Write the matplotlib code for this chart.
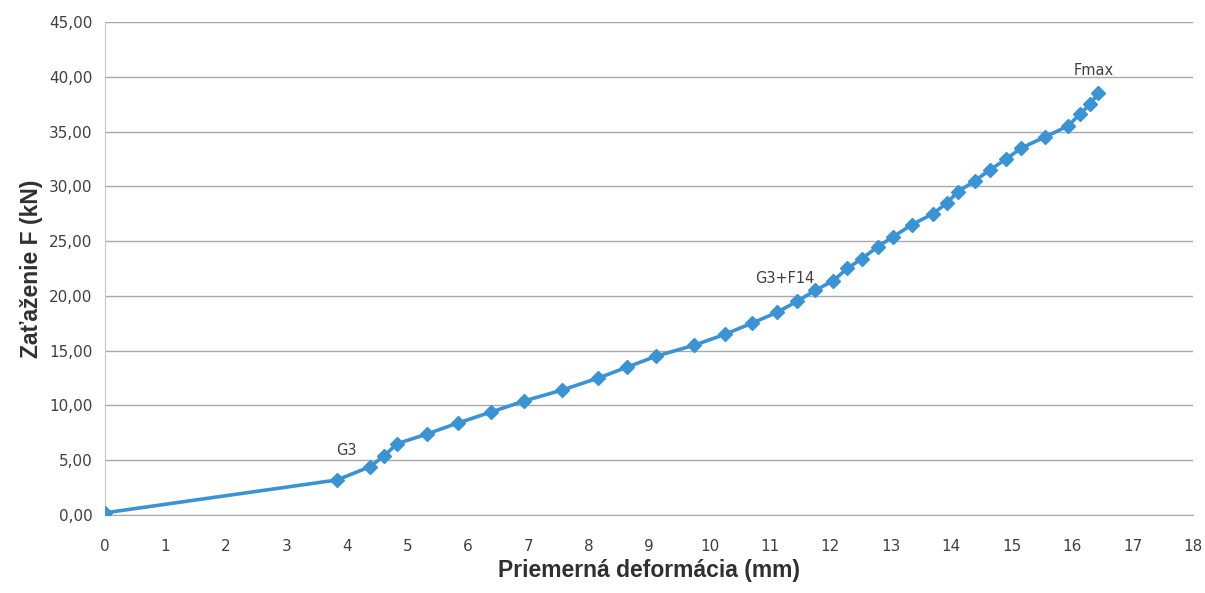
import numpy as np
import matplotlib
matplotlib.use('Agg')
import matplotlib.pyplot as plt
from matplotlib.ticker import MultipleLocator, FuncFormatter

# priemerna deformacia (mm) a zatazenie (kN)
deform = [0.0, 3.84, 4.38, 4.62, 4.83, 5.33, 5.84, 6.39, 6.93, 7.56, 8.16,
          8.64, 9.12, 9.75, 10.26, 10.70, 11.12, 11.45, 11.75, 12.05, 12.28,
          12.52, 12.79, 13.04, 13.35, 13.70, 13.93, 14.11, 14.39, 14.64,
          14.91, 15.16, 15.55, 15.93, 16.13, 16.30, 16.43]
load = [0.2, 3.2, 4.4, 5.4, 6.5, 7.4, 8.4, 9.4, 10.4, 11.4, 12.5,
        13.5, 14.5, 15.5, 16.5, 17.5, 18.5, 19.5, 20.5, 21.4, 22.5,
        23.4, 24.5, 25.4, 26.5, 27.5, 28.5, 29.5, 30.5, 31.5,
        32.5, 33.5, 34.5, 35.5, 36.6, 37.5, 38.5]

labels = ['G3', 'G3+F14', 'Fmax']
label_x = [4.0, 11.25, 16.35]
label_y = [5.9, 21.6, 40.6]

col = '#3b93d4'
grid_col = '#a8a8a8'
txt_col = '#404040'

fig = plt.figure(figsize=(12.05, 5.93), dpi=100)
ax = fig.add_axes([0.0871, 0.1315, 0.903, 0.8315])

ax.plot(deform, load, color=col, lw=2.6, marker='D', ms=7,
        markerfacecolor=col, markeredgecolor=col, zorder=3)

for t, x, y in zip(labels, label_x, label_y):
    ax.text(x, y, t, ha='center', va='center', fontsize=10.5, color=txt_col,
            family='DejaVu Sans')

ax.set_xlim(0, 18)
ax.set_ylim(0, 45)
ax.xaxis.set_major_locator(MultipleLocator(1))
ax.yaxis.set_major_locator(MultipleLocator(5))
ax.yaxis.set_major_formatter(FuncFormatter(lambda v, p: ('%.2f' % v).replace('.', ',')))
ax.yaxis.grid(True, color=grid_col, lw=1)
ax.set_axisbelow(True)

for s in ['top', 'right']:
    ax.spines[s].set_visible(False)
ax.spines['left'].set_color('#c8c8c8')
ax.spines['bottom'].set_color(grid_col)
ax.tick_params(axis='both', length=0, labelsize=11, colors=txt_col)
ax.tick_params(axis='x', pad=17)
ax.tick_params(axis='y', pad=9)

ax.set_xlabel('Priemerná deformácia (mm)', fontsize=16.5, fontweight='bold',
              color='#303030', family='Liberation Sans', labelpad=4)
ax.set_ylabel('Zaťaženie F (kN)', fontsize=16.5, fontweight='bold',
              color='#303030', family='Liberation Sans', labelpad=4)

fig.savefig('out.png', dpi=100)
